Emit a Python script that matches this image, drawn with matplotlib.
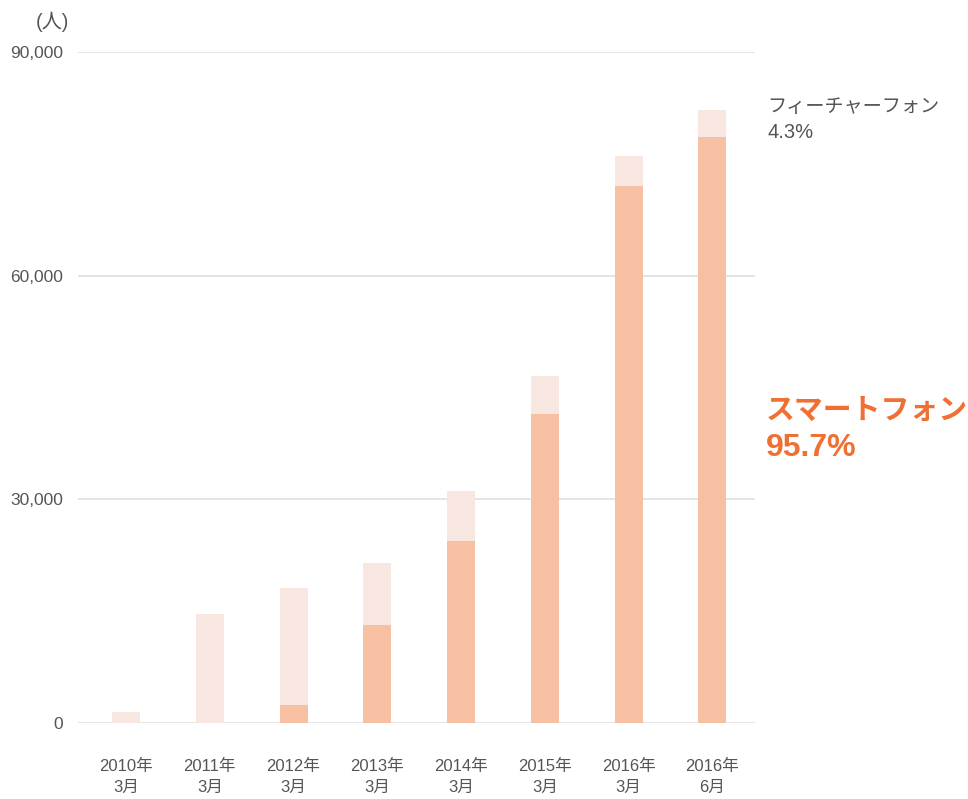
"""
stacked bar chart: smartphone / feature phone users
"""
import matplotlib
matplotlib.use("Agg")
import matplotlib.pyplot as plt
import numpy as np

plt.rcParams['font.family'] = ['Liberation Sans', 'Noto Sans CJK JP', 'DejaVu Sans']

periods = ["2010年\n3月", "2011年\n3月", "2012年\n3月", "2013年\n3月",
           "2014年\n3月", "2015年\n3月", "2016年\n3月", "2016年\n6月"]
smartphone = [0, 0, 2400, 13100, 24400, 41400, 72000, 78600]
total = [1500, 14600, 18100, 21500, 31100, 46500, 76000, 82200]
feature = [t - s for t, s in zip(total, smartphone)]

smart_color = "#F8C0A2"
feature_color = "#F8E6E0"
orange = "#F07033"
gray = "#555555"

fig = plt.figure(figsize=(9.68, 7.99), dpi=100)
ax = fig.add_axes([0.0806, 0.0951, 0.6994, 0.8398])

x = np.arange(len(periods))
ax.bar(x, smartphone, 0.335, color=smart_color, zorder=2)
ax.bar(x, feature, 0.335, bottom=smartphone, color=feature_color, zorder=2)

ax.set_ylim(0, 90000)
ax.set_xlim(-0.573, 7.51)
ax.set_yticks([0, 30000, 60000, 90000])
ax.set_yticklabels(["0", "30,000", "60,000", "90,000"])
ax.set_xticks(x)
ax.set_xticklabels(periods, linespacing=1.5)
ax.tick_params(axis='y', length=0, pad=11, labelsize=12.5, labelcolor=gray)
ax.tick_params(axis='x', length=0, pad=26, labelsize=12, labelcolor=gray)
ax.grid(axis='y', color="#E0E0E0", linewidth=1.2, zorder=0)
for s in ax.spines.values():
    s.set_visible(False)

fig.text(52 / 968, 1 - 22 / 799, "(人)", ha='center', va='center',
         fontsize=14.5, color=gray)

fig.text(767 / 968, 1 - 107 / 799, "フィーチャーフォン", ha='left', va='center',
         fontsize=13.8, color=gray)
fig.text(767 / 968, 1 - 132 / 799, "4.3%", ha='left', va='center',
         fontsize=14.5, color=gray)
fig.text(766 / 968, 1 - 411 / 799, "スマートフォン", ha='left', va='center',
         fontsize=20.8, color=orange, fontweight='bold')
fig.text(766 / 968, 1 - 448 / 799, "95.7%", ha='left', va='center',
         fontsize=23, color=orange, fontweight='bold')

fig.savefig("out.png", dpi=100)
